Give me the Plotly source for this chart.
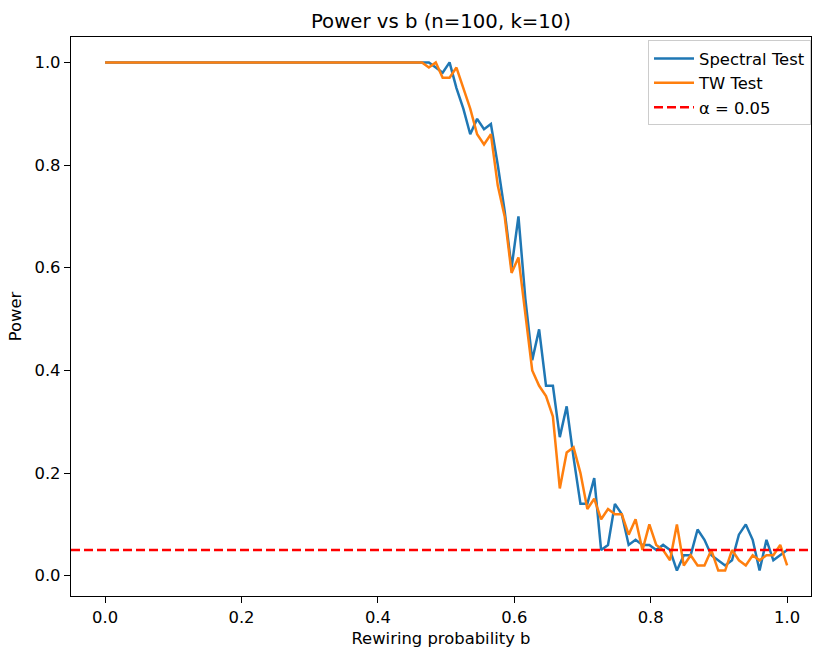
import numpy as np
import plotly.graph_objects as go

b_values = np.linspace(0, 1, 100)

spectral_power = [1.00] * 46 + [
    1.00, 1.00, 0.99, 0.98, 1.00, 0.95, 0.91, 0.86, 0.89, 0.87,
    0.88, 0.80, 0.71, 0.60, 0.70, 0.54, 0.42, 0.48, 0.37, 0.37,
    0.27, 0.33, 0.23, 0.14, 0.14, 0.19, 0.05, 0.06, 0.14, 0.12,
    0.06, 0.07, 0.06, 0.06, 0.05, 0.06, 0.05, 0.01, 0.04, 0.04,
    0.09, 0.07, 0.04, 0.03, 0.02, 0.03, 0.08, 0.10, 0.07, 0.01,
    0.07, 0.03, 0.04, 0.05,
]

tw_power = [1.00] * 46 + [
    1.00, 0.99, 1.00, 0.97, 0.97, 0.99, 0.95, 0.91, 0.86, 0.84,
    0.86, 0.76, 0.70, 0.59, 0.62, 0.51, 0.40, 0.37, 0.35, 0.31,
    0.17, 0.24, 0.25, 0.20, 0.13, 0.15, 0.11, 0.13, 0.12, 0.12,
    0.08, 0.11, 0.05, 0.10, 0.06, 0.05, 0.03, 0.10, 0.02, 0.04,
    0.02, 0.02, 0.05, 0.01, 0.01, 0.05, 0.03, 0.02, 0.04, 0.03,
    0.04, 0.04, 0.06, 0.02,
]

alpha = 0.05
x_ticks = [0.0, 0.2, 0.4, 0.6, 0.8, 1.0]
y_ticks = [0.0, 0.2, 0.4, 0.6, 0.8, 1.0]

font = "DejaVu Sans, sans-serif"
fs = 16.4

fig = go.Figure()
fig.add_trace(go.Scatter(x=b_values, y=spectral_power, mode="lines",
                         name="Spectral Test",
                         line=dict(color="#1f77b4", width=2.5)))
fig.add_trace(go.Scatter(x=b_values, y=tw_power, mode="lines",
                         name="TW Test",
                         line=dict(color="#ff7f0e", width=2.5)))
fig.add_trace(go.Scatter(x=[None], y=[None], mode="lines",
                         name="α = 0.05",
                         line=dict(color="red", width=2.5, dash="9px,4px")))
fig.add_shape(type="line", xref="x domain", x0=0, x1=1, yref="y",
              y0=alpha, y1=alpha,
              line=dict(color="red", width=2.5, dash="9px,4px"))

axis_common = dict(
    showgrid=False, zeroline=False, showline=True, linecolor="black",
    linewidth=1.3, mirror=True, ticks="outside", ticklen=6, tickwidth=1.3,
    tickcolor="black", tickfont=dict(size=fs, color="black", family=font),
)

fig.update_layout(
    width=813, height=651,
    paper_bgcolor="white", plot_bgcolor="white",
    margin=dict(l=71, r=2, t=37, b=55),
    title=dict(text="Power vs b (n=100, k=10)", x=0.5, xref="paper",
               xanchor="center", y=0.968, yanchor="middle",
               font=dict(size=19.7, color="black", family=font)),
    xaxis=dict(range=[-0.05, 1.035], tickvals=x_ticks,
               ticktext=[f"{v:.1f}" for v in x_ticks],
               title=dict(text="Rewiring probability b", standoff=6,
                          font=dict(size=fs, color="black", family=font)),
               **axis_common),
    yaxis=dict(range=[-0.0395, 1.0495], tickvals=y_ticks,
               ticktext=[f"{v:.1f}" for v in y_ticks],
               title=dict(text="Power", standoff=8,
                          font=dict(size=fs, color="black", family=font)),
               **axis_common),
    legend=dict(x=1.0, xanchor="right", y=0.994, yanchor="top",
                bgcolor="rgba(255,255,255,0.8)", bordercolor="#cccccc",
                borderwidth=1, font=dict(size=fs, color="black", family=font),
                tracegroupgap=0, itemwidth=40),
    showlegend=True,
)

fig.write_html("out.html", config={"displayModeBar": False},
               post_script="document.body.style.margin='0';")
